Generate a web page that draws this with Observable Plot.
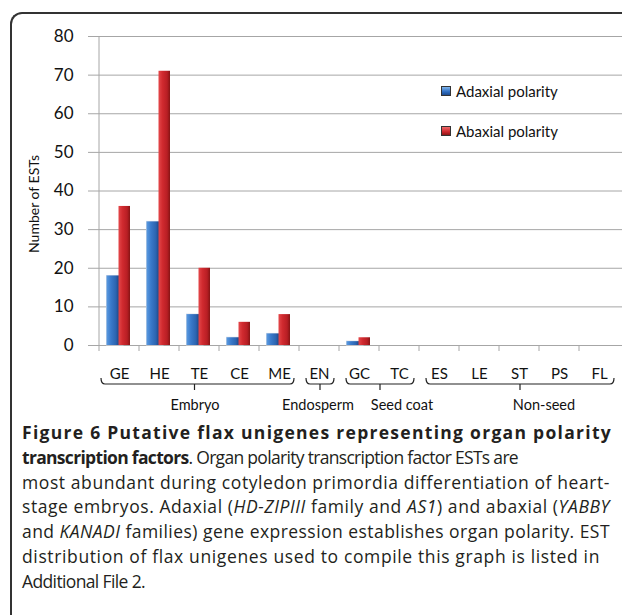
<!DOCTYPE html>
<html>
<head>
<meta charset="utf-8">
<script src="https://cdn.jsdelivr.net/npm/d3@7"></script>
<script src="https://cdn.jsdelivr.net/npm/@observablehq/plot@0.6"></script>
<style>
  html, body { margin: 0; padding: 0; background: #fff; }
  body { width: 622px; height: 615px; position: relative; overflow: hidden; font-family: Lato, "Noto Sans", sans-serif; }
  #frame { position: absolute; left: 10px; top: 12px; width: 700px; height: 700px;
           border-left: 2px solid #333; border-top: 2px solid #333; border-top-left-radius: 12px; }
  #chart { position: absolute; left: 0; top: 0; }
  #legend { position: absolute; left: 441px; top: 82px; font-size: 15px; color: #111; }
  #legend .item { position: absolute; left: 0; white-space: nowrap; display: flex; align-items: center; }
  #legend .sw { width: 10px; height: 10px; margin-right: 5px; border: 0.5px solid #333; box-sizing: border-box; }
  #caption { position: absolute; left: 22px; top: 420px; font-family: "Open Sans", Lato, sans-serif; font-size: 17.5px; line-height: 24.8px; color: #231f20; }
  #caption div { white-space: nowrap; }
  #caption span.ln { display: inline-block; }
  #caption b { font-weight: 700; }
</style>
</head>
<body>
<div id="frame"></div>
<div id="chart"></div>
<div id="legend"></div>
<div id="caption">
  <div><span class="ln" data-w="590"><b>Figure 6 Putative flax unigenes representing organ polarity</b></span></div>
  <div><span class="ln" data-w="496"><b>transcription factors</b>. Organ polarity transcription factor ESTs are</span></div>
  <div><span class="ln" data-w="588">most abundant during cotyledon primordia differentiation of heart-</span></div>
  <div><span class="ln" data-w="588">stage embryos. Adaxial (<i>HD-ZIPIII</i> family and <i>AS1</i>) and abaxial (<i>YABBY</i></span></div>
  <div><span class="ln" data-w="588">and <i>KANADI</i> families) gene expression establishes organ polarity. EST</span></div>
  <div><span class="ln" data-w="578">distribution of flax unigenes used to compile this graph is listed in</span></div>
  <div><span class="ln" data-w="123">Additional File 2.</span></div>
</div>
<script>
// ---- data ----
const categories = ["GE","HE","TE","CE","ME","EN","GC","TC","ES","LE","ST","PS","FL"];
const adaxial    = [18, 32, 8, 2, 3, 0, 1, 0, 0, 0, 0, 0, 0];
const abaxial    = [36, 71, 20, 6, 8, 0, 2, 0, 0, 0, 0, 0, 0];
const seriesNames = ["Adaxial polarity", "Abaxial polarity"];
const groupNames = ["Embryo", "Endosperm", "Seed coat", "Non-seed"];
const groupFirst = ["GE", "EN", "GC", "ES"];
const groupLast  = ["ME", "EN", "TC", "FL"];
const yTicks = [0, 10, 20, 30, 40, 50, 60, 70, 80];
const yLabel = "Number of ESTs";

const rows = [];
categories.forEach((c, i) => {
  rows.push({cat: c, series: seriesNames[0], value: adaxial[i]});
  rows.push({cat: c, series: seriesNames[1], value: abaxial[i]});
});
const adRows = rows.filter(d => d.series === seriesNames[0] && d.value > 0);
const abRows = rows.filter(d => d.series === seriesNames[1] && d.value > 0);

const W = 622, H = 420;
const font = "Lato, 'Noto Sans', sans-serif";

function defs() {
  const g = d3.create("svg:defs");
  const mk = (id, stops) => {
    const lg = g.append("linearGradient").attr("id", id).attr("x1", "0").attr("x2", "1").attr("y1", "0").attr("y2", "0");
    stops.forEach(([o, c]) => lg.append("stop").attr("offset", o).attr("stop-color", c));
  };
  mk("gblue", [["0%", "#5b9be0"], ["35%", "#3a7acb"], ["75%", "#2d64b0"], ["100%", "#1b4685"]]);
  mk("gred", [["0%", "#e4474a"], ["35%", "#d02a2f"], ["75%", "#b81e24"], ["100%", "#861414"]]);
  return g.node();
}

function bandInfo(x) {
  return x.bandwidth ? x.bandwidth() : (x(categories[1]) - x(categories[0]));
}

// boundary ticks + axis line + group braces and labels
function annotations(index, scales, values, dims) {
  const x = scales.x, y = scales.y;
  const bw = bandInfo(x);
  const y0 = y(0);
  const g = d3.create("svg:g");
  g.append("line").attr("x1", x(categories[0])).attr("x2", x(categories[0]))
    .attr("y1", y(80)).attr("y2", y0).attr("stroke", "#a6a6a6");
  categories.forEach(c => {
    const xx = x(c);
    g.append("line").attr("x1", xx).attr("x2", xx).attr("y1", y0).attr("y2", y0 + 6).attr("stroke", "#a6a6a6");
  });
  const labelShift = {"Embryo": -4, "Endosperm": -1, "Seed coat": 23, "Non-seed": 25};
  const byy = y0 + 39, hook = 6;
  groupNames.forEach((name, i) => {
    const first = groupFirst[i] === "GE" ? 2 : 7;
    const x1 = x(groupFirst[i]) + first;
    const x2 = x(groupLast[i]) + bw - 5;
    const xm = (x1 + x2) / 2 - (name === "Embryo" ? 3 : 0);
    const p = d3.path();
    p.moveTo(x1, byy - hook);
    p.quadraticCurveTo(x1, byy, x1 + 4, byy);
    p.lineTo(x2 - 4, byy);
    p.quadraticCurveTo(x2, byy, x2, byy - hook);
    p.moveTo(xm, byy);
    p.lineTo(xm, byy + 6);
    g.append("path").attr("d", p.toString()).attr("fill", "none").attr("stroke", "#222").attr("stroke-width", 1.2);
    g.append("text").attr("x", (x(groupFirst[i]) + x(groupLast[i]) + bw) / 2 + labelShift[name])
      .attr("y", y0 + 60).attr("dy", "0.35em").attr("text-anchor", "middle")
      .attr("font-size", 14.5).attr("fill", "#111").attr("font-family", font).text(name);
  });
  return g.node();
}

const chart = Plot.plot({
  width: W,
  height: H,
  marginLeft: 95,
  marginRight: 0,
  marginTop: 36,
  marginBottom: 75,
  style: {fontFamily: font, background: "transparent", overflow: "visible"},
  x: {domain: categories, padding: 0, label: null},
  y: {domain: [0, 80], label: null},
  marks: [
    defs,
    Plot.gridY(yTicks, {stroke: "#a6a6a6", strokeOpacity: 1}),
    Plot.axisY(yTicks, {tickSize: 7, tickPadding: 15, fontSize: 17, stroke: "#a6a6a6", label: null, fill: "#111"}),
    Plot.text([yLabel], {frameAnchor: "left", textAnchor: "middle", dx: -61, dy: 13, rotate: -90, fontSize: 14, fill: "#111"}),
    Plot.axisX({tickSize: 0, tickPadding: 23, fontSize: 15, label: null, fill: "#111"}),
    Plot.barY(adRows, {x: "cat", y: "value", fill: "none", stroke: "#d7dbe6", strokeWidth: 1, insetLeft: 7.5, insetRight: 16}),
    Plot.barY(adRows, {x: "cat", y: "value", fill: "url(#gblue)", insetLeft: 7.5, insetRight: 20}),
    Plot.barY(abRows, {x: "cat", y: "value", fill: "url(#gred)", insetLeft: 19.5, insetRight: 9}),
    annotations
  ]
});
document.getElementById("chart").appendChild(chart);

// legend
const legend = document.getElementById("legend");
const swatch = ["linear-gradient(180deg,#7fb5ec,#2d6cc0 60%,#1d4a8c)", "linear-gradient(180deg,#ef6a6a,#cc262c 60%,#8a1616)"];
seriesNames.forEach((s, i) => {
  const it = document.createElement("div");
  it.className = "item";
  it.style.top = (i * 40) + "px";
  const sw = document.createElement("span");
  sw.className = "sw";
  sw.style.background = swatch[i];
  const t = document.createElement("span");
  t.textContent = s;
  it.appendChild(sw); it.appendChild(t);
  legend.appendChild(it);
});

// fit caption lines to the widths seen in the figure
document.querySelectorAll("#caption span.ln").forEach(el => {
  const target = +el.dataset.w;
  const n = el.textContent.length;
  const w = el.getBoundingClientRect().width;
  el.style.letterSpacing = ((target - w) / n) + "px";
});
</script>
</body>
</html>
